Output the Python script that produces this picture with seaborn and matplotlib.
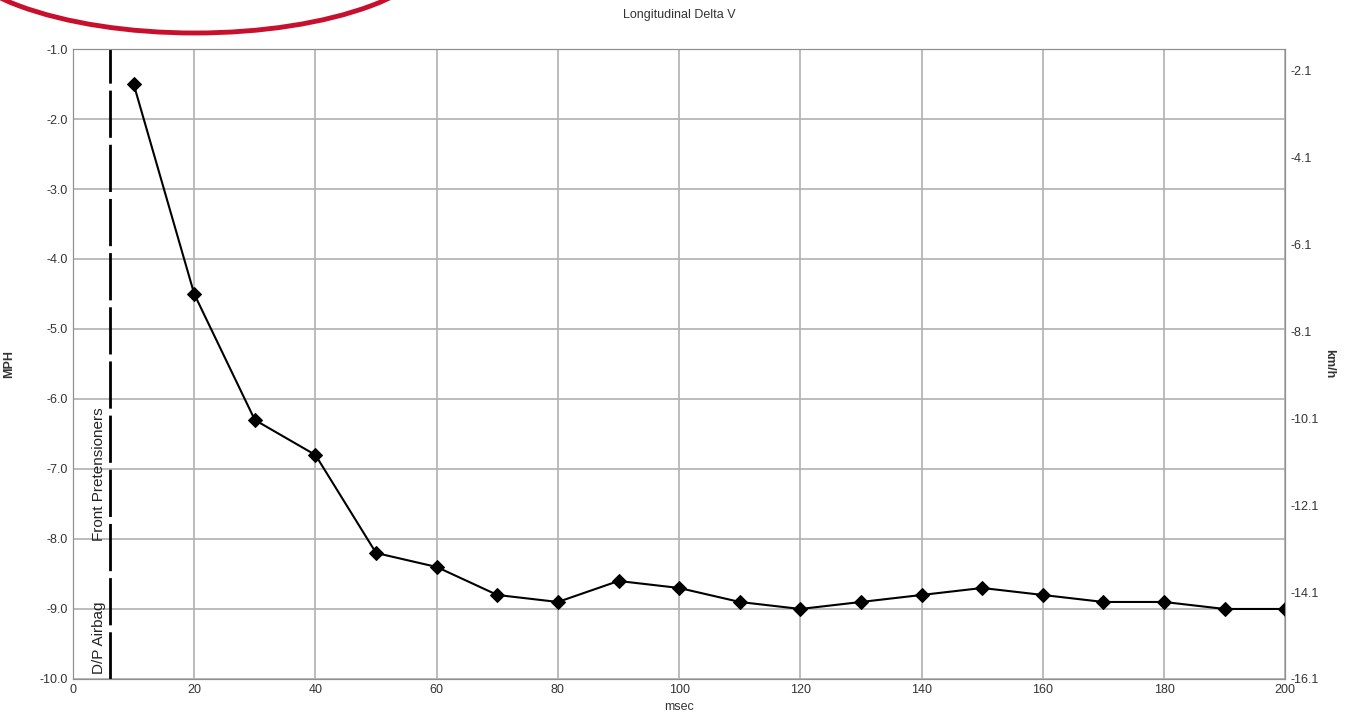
import matplotlib
matplotlib.use("Agg")
import matplotlib.pyplot as plt
from matplotlib.patches import Ellipse
import numpy as np
import pandas as pd
import seaborn as sns

# Longitudinal Delta V, mph vs msec
msec = [10, 20, 30, 40, 50, 60, 70, 80, 90, 100,
        110, 120, 130, 140, 150, 160, 170, 180, 190, 200]
mph = [-1.5, -4.5, -6.3, -6.8, -8.2, -8.4, -8.8, -8.9, -8.6, -8.7,
       -8.9, -9.0, -8.9, -8.8, -8.7, -8.8, -8.9, -8.9, -9.0, -9.0]
event_ms = 6.1
event_labels = ["D/P Airbag", "Front Pretensioners"]
kmh_ticks = [-16.1, -14.1, -12.1, -10.1, -8.1, -6.1, -4.1, -2.1]

df = pd.DataFrame({"msec": msec, "mph": mph})

sns.set_style("white")
plt.rcParams['font.family'] = ['Liberation Sans', 'DejaVu Sans']

fig = plt.figure(figsize=(13.47, 7.24), dpi=100)
ax = fig.add_axes([0.0542, 0.0622, 0.9000, 0.8701])

sns.lineplot(data=df, x="msec", y="mph", ax=ax, color="black", lw=1.5,
             marker="D", markersize=7, markeredgecolor="black", zorder=5)

ax.set_xlim(0, 200)
ax.set_ylim(-10, -1)
ax.set_xticks(np.arange(0, 201, 20))
ax.set_yticks(np.arange(-10, -0.5, 1.0))
ax.set_yticklabels([f"{v:.1f}" for v in np.arange(-10, -0.5, 1.0)])
ax.grid(True, color="#b0b0b0", lw=1.2)
for s in ax.spines.values():
    s.set_color("#909090")
ax.tick_params(labelsize=9, colors="#333333", length=0)

# event marker
ax.axvline(event_ms, color="black", lw=2, ls=(0, (17, 2.5)), zorder=4)
ax.text(event_ms - 0.6, -9.93, event_labels[0], rotation=90, ha="right", va="bottom",
        fontsize=11, color="#222222")
ax.text(event_ms - 0.6, -8.03, event_labels[1], rotation=90, ha="right", va="bottom",
        fontsize=11, color="#222222")

ax.set_xlabel("msec", fontsize=9, color="#333333")
ax.set_ylabel("MPH", fontsize=9, fontweight="bold", color="#333333")
ax.yaxis.set_label_coords(-0.048, 0.5)
ax.set_title("Longitudinal Delta V", fontsize=9, color="#333333", pad=22)

# km/h secondary axis
ax2 = ax.twinx()
ax2.set_ylim(-10 * 1.609, -1 * 1.609)
ax2.set_yticks(kmh_ticks)
ax2.set_yticklabels([f"{v:.1f}" for v in kmh_ticks])
ax2.tick_params(labelsize=9, colors="#333333", length=0)
ax2.set_ylabel("km/h", fontsize=9, fontweight="bold", color="#333333", rotation=270)
ax2.yaxis.set_label_coords(1.041, 0.5)
for s in ax2.spines.values():
    s.set_color("#909090")

# red annotation arc at the top-left corner
ell = Ellipse((195 / 1347, 1 - (-60) / 724), 2 * 249 / 1347, 2 * 93 / 724,
              transform=fig.transFigure, fill=False, edgecolor="#c8102e", lw=3.5,
              clip_on=False)
fig.patches.append(ell)

fig.savefig("out.png", dpi=100)
